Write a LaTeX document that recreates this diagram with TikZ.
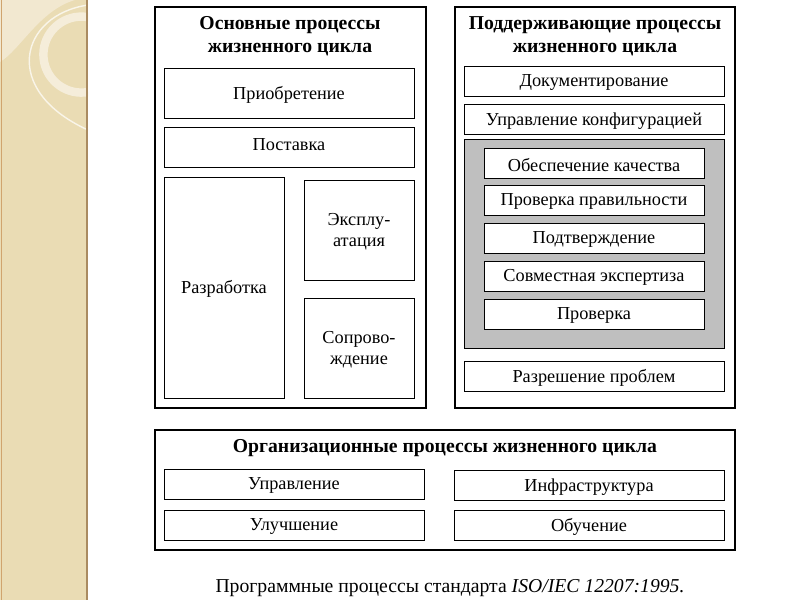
\documentclass[tikz,border=0pt]{standalone}
\usepackage{fontspec}
\setmainfont{Liberation Serif}
\definecolor{strip}{HTML}{EADCB4}
\definecolor{stripl}{HTML}{F2E8D0}
\begin{document}
\begin{tikzpicture}[x=0.025cm,y=-0.025cm,
  outer/.style={draw,line width=1.6pt},
  inbox/.style={draw,line width=0.7pt,fill=white},
  lbl/.style={font=\fontsize{13}{15}\selectfont,align=center,yshift=-1.2pt},
  ttl/.style={font=\fontsize{14}{16.5}\selectfont\bfseries,align=center}]
\useasboundingbox (0,0) rectangle (800,600);
\fill[white] (0,0) rectangle (800,600);
\fill[strip] (0,0) rectangle (88,600);
\begin{scope}
\clip (0,0) rectangle (88,600);
\fill[stripl] (0,0) -- (75,0) .. controls (40,10) and (20,50) .. (0,62) -- cycle;
\draw[white!70!strip,line width=1pt] (88,5) .. controls (20,15) and (0,90) .. (88,130);
\draw[white!50!strip,line width=6pt] (88,92) arc (80:290:38);
\end{scope}
\draw[brown!50!strip!80!black,line width=1.2pt] (87,0) -- (87,600);
\draw[brown!60!strip,line width=0.6pt] (1,0) -- (1,600);
% left block
\draw[outer] (155,7) rectangle (426,408);
\node[ttl] (t1) at (290,36) {Основные процессы\\жизненного цикла};
\draw[inbox] (164,68) rectangle (414,118) node[midway,lbl] (a1) {Приобретение};
\draw[inbox] (164,127) rectangle (414,167) node[midway,lbl,yshift=3pt] (a2) {Поставка};
\draw[inbox] (164,177) rectangle (284,398) node[midway,lbl] (a3) {Разработка};
\draw[inbox] (304,180) rectangle (414,280) node[midway,lbl] (a4) {Эксплу-\\атация};
\draw[inbox] (304,298) rectangle (414,398) node[midway,lbl] (a5) {Сопрово-\\ждение};
% right block
\draw[outer] (455,7) rectangle (735,408);
\node[ttl] (t2) at (595,36) {Поддерживающие процессы\\жизненного цикла};
\draw[inbox] (464,66) rectangle (724,96) node[midway,lbl] (b1) {Документирование};
\draw[inbox] (464,104) rectangle (724,134) node[midway,lbl] (b2) {Управление конфигурацией};
\draw[draw,line width=0.7pt,fill=black!25] (464,139) rectangle (724,348);
\draw[inbox] (484,148) rectangle (704,178) node[midway,lbl] (c1) {Обеспечение качества};
\draw[inbox] (484,185) rectangle (704,215) node[midway,lbl] (c2) {Проверка правильности};
\draw[inbox] (484,223) rectangle (704,253) node[midway,lbl] (c3) {Подтверждение};
\draw[inbox] (484,261) rectangle (704,291) node[midway,lbl] (c4) {Совместная экспертиза};
\draw[inbox] (484,299) rectangle (704,329) node[midway,lbl] (c5) {Проверка};
\draw[inbox] (464,361) rectangle (724,391) node[midway,lbl] (b3) {Разрешение проблем};
% bottom block
\draw[outer] (155,430) rectangle (735,550);
\node[ttl] (t3) at (445,448) {Организационные процессы жизненного цикла};
\draw[inbox] (164,469) rectangle (424,499) node[midway,lbl] (d1) {Управление};
\draw[inbox] (454,470) rectangle (724,500) node[midway,lbl] (d2) {Инфраструктура};
\draw[inbox] (164,510) rectangle (424,540) node[midway,lbl] (d3) {Улучшение};
\draw[inbox] (454,510) rectangle (724,540) node[midway,lbl] (d4) {Обучение};
\node[font=\fontsize{14}{16}\selectfont] (cap) at (450,588) {Программные процессы стандарта \textit{ISO/IEC 12207:1995.}};
\end{tikzpicture}
\end{document}
